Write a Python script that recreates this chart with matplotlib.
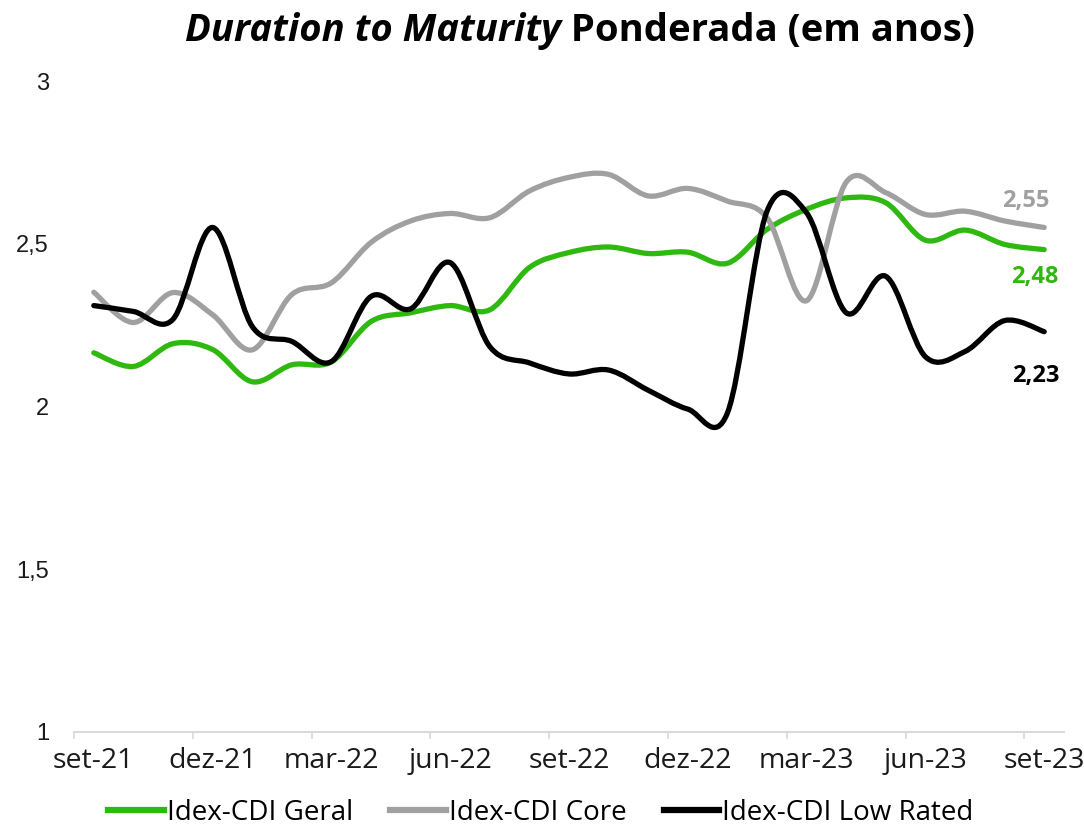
import numpy as np
import matplotlib
matplotlib.use("Agg")
import matplotlib.pyplot as plt
from matplotlib.path import Path
from matplotlib.patches import PathPatch
from matplotlib.lines import Line2D

# ---- data ----
months = ["set-21", "out-21", "nov-21", "dez-21", "jan-22", "fev-22", "mar-22", "abr-22", "mai-22",
          "jun-22", "jul-22", "ago-22", "set-22", "out-22", "nov-22", "dez-22", "jan-23", "fev-23",
          "mar-23", "abr-23", "mai-23", "jun-23", "jul-23", "ago-23", "set-23"]
tick_labels = ["set-21", "dez-21", "mar-22", "jun-22", "set-22", "dez-22", "mar-23", "jun-23", "set-23"]

geral = [2.165, 2.123, 2.193, 2.175, 2.076, 2.128, 2.137, 2.261, 2.288, 2.310, 2.297, 2.427, 2.473,
         2.490, 2.470, 2.474, 2.440, 2.544, 2.606, 2.641, 2.626, 2.511, 2.542, 2.498, 2.482]
core = [2.351, 2.258, 2.350, 2.282, 2.174, 2.344, 2.380, 2.504, 2.570, 2.593, 2.580, 2.662, 2.704,
        2.713, 2.647, 2.670, 2.631, 2.580, 2.325, 2.689, 2.657, 2.590, 2.600, 2.570, 2.550]
low_rated = [2.310, 2.292, 2.268, 2.550, 2.246, 2.200, 2.138, 2.338, 2.300, 2.442, 2.184, 2.134, 2.100,
             2.112, 2.050, 1.992, 1.980, 2.600, 2.595, 2.288, 2.400, 2.153, 2.169, 2.264, 2.230]

series_names = ["Idex-CDI Geral", "Idex-CDI Core", "Idex-CDI Low Rated"]
series_values = [geral, core, low_rated]
series_colors = ["#2fb80f", "#a0a0a0", "#000000"]
end_labels = ["2,48", "2,55", "2,23"]
end_offsets = [(-7, -20), (-13, 19), (-6, -32)]

TXT = ["Open Sans", "DejaVu Sans"]


def smooth_path(xs, ys):
    xs = np.asarray(xs, float)
    ys = np.asarray(ys, float)
    n = len(xs)
    verts = [(xs[0], ys[0])]
    codes = [Path.MOVETO]
    for i in range(n - 1):
        i0 = max(i - 1, 0)
        i3 = min(i + 2, n - 1)
        c1 = (xs[i] + (xs[i + 1] - xs[i0]) / 6.0, ys[i] + (ys[i + 1] - ys[i0]) / 6.0)
        c2 = (xs[i + 1] - (xs[i3] - xs[i]) / 6.0, ys[i + 1] - (ys[i3] - ys[i]) / 6.0)
        verts += [c1, c2, (xs[i + 1], ys[i + 1])]
        codes += [Path.CURVE4] * 3
    return Path(verts, codes)


fig = plt.figure(figsize=(10.84, 8.31), dpi=100)
ax = fig.add_axes([74 / 1084, 1 - 732 / 831, 990 / 1084, (732 - 81) / 831])

x = np.arange(len(months))
for vals, col in zip(series_values, series_colors):
    ax.add_patch(PathPatch(smooth_path(x, vals), facecolor="none", edgecolor=col,
                           lw=3.8, capstyle="round", joinstyle="round"))

ax.set_xlim(-0.5, len(months) - 0.5)
ax.set_ylim(1, 3)
ax.set_yticks([1, 1.5, 2, 2.5, 3])
ax.set_yticklabels(["1", "1,5", "2", "2,5", "3"], family="Liberation Sans", fontsize=17, color="#1a1a1a")
ax.tick_params(axis="y", length=0, pad=18)

major_pos = [months.index(t) for t in tick_labels]
ax.set_xticks(major_pos)
ax.set_xticklabels(tick_labels, family=TXT, fontsize=20.5, color="#1a1a1a")
ax.set_xticks(np.arange(-0.5, len(months) - 0.5, 3), minor=True)
ax.tick_params(axis="x", which="major", length=0, pad=11)
ax.tick_params(axis="x", which="minor", length=5, width=1.2, color="#d9d9d9", direction="out")

for s in ["top", "right", "left"]:
    ax.spines[s].set_visible(False)
ax.spines["bottom"].set_color("#d9d9d9")
ax.spines["bottom"].set_linewidth(1.5)

for vals, col, lab, off in zip(series_values, series_colors, end_labels, end_offsets):
    ax.annotate(lab, (x[-1], vals[-1]), xytext=off, textcoords="offset points",
                ha="center", va="center", fontsize=17, fontweight="bold", color=col,
                family=TXT)

handles = [Line2D([], [], color=c, lw=4.5) for c in series_colors]
fig.legend(handles, series_names, loc="center", bbox_to_anchor=(0.499, 0.022), ncol=3,
           frameon=False, prop={"family": TXT, "size": 20}, handlelength=2.0,
           handletextpad=0.1, columnspacing=1.35, borderpad=0.1)

# title in two parts
renderer = fig.canvas.get_renderer()
tkw = dict(fontsize=27.5, fontweight="bold", family=TXT, va="center", color="#000000")
t1 = fig.text(0, 0.963, "Duration to Maturity", fontstyle="italic", **tkw)
t2 = fig.text(0, 0.963, " Ponderada (em anos)", **tkw)
w1 = t1.get_window_extent(renderer).width
w2 = t2.get_window_extent(renderer).width
cx = 579.5
start = cx - (w1 + w2) / 2
t1.set_x(start / 1084)
t2.set_x((start + w1) / 1084)

fig.savefig("out.png", dpi=100)
